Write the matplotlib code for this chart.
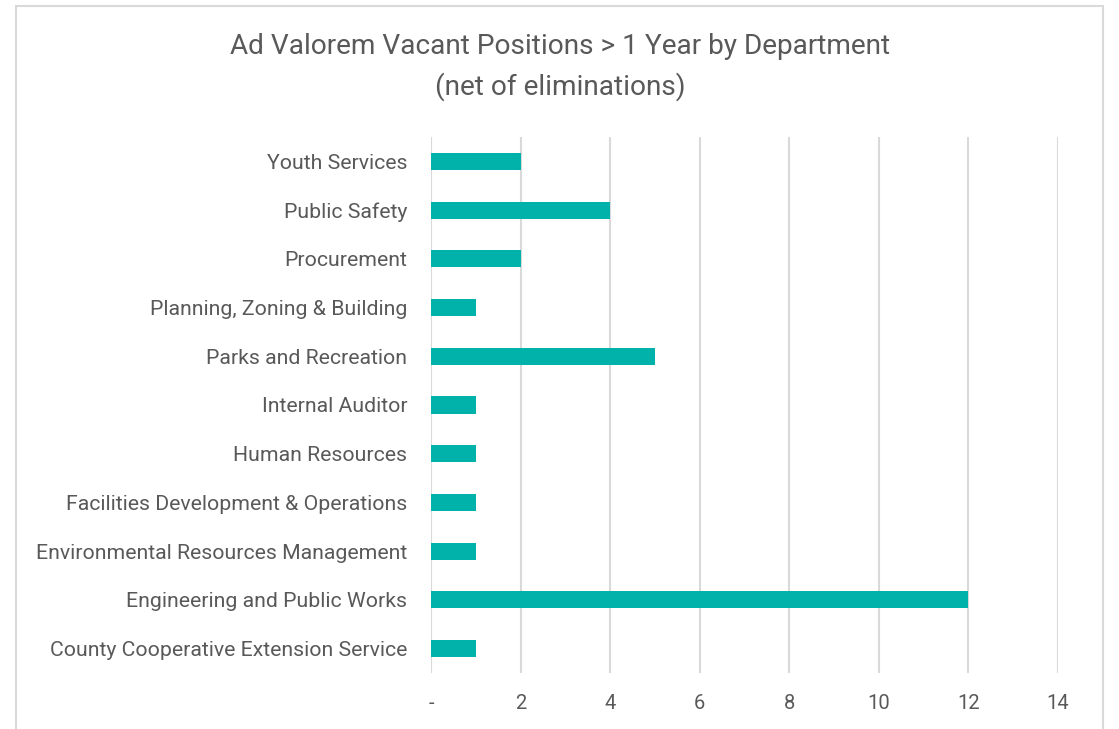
import matplotlib
matplotlib.use("Agg")
import matplotlib.pyplot as plt
from matplotlib.patches import Rectangle

categories = ["County Cooperative Extension Service", "Engineering and Public Works",
              "Environmental Resources Management", "Facilities Development & Operations",
              "Human Resources", "Internal Auditor", "Parks and Recreation",
              "Planning, Zoning & Building", "Procurement", "Public Safety", "Youth Services"]
values = [1, 12, 1, 1, 1, 1, 5, 1, 2, 4, 2]
xticks = [0, 2, 4, 6, 8, 10, 12, 14]
xtick_labels = ["-", "2", "4", "6", "8", "10", "12", "14"]

plt.rcParams['font.family'] = ['Roboto', 'DejaVu Sans']
text_color = "#595959"

fig = plt.figure(figsize=(11.19, 7.29), dpi=100)
fig.patches.append(Rectangle((16/1119, -0.1), (1103-16)/1119, 1.1 - 6/729,
                             transform=fig.transFigure, fill=False,
                             edgecolor="#D9D9D9", linewidth=1.5))
ax = fig.add_axes([431/1119, 1-673/729, (1058-431)/1119, (673-137)/729])
ax.barh(range(len(categories)), values, height=0.35, color="#00B2A9", zorder=3)
ax.set_ylim(-0.5, len(categories)-0.5)
ax.set_xlim(0, 14)
ax.set_yticks(range(len(categories)))
ax.set_yticklabels(categories, fontsize=15.3, color=text_color)
ax.set_xticks(xticks)
ax.set_xticklabels(xtick_labels, fontsize=14.5, color=text_color)
ax.tick_params(length=0)
ax.tick_params(axis='y', pad=17)
ax.tick_params(axis='x', pad=15)
for s in ax.spines.values():
    s.set_visible(False)
ax.grid(axis='x', color="#D9D9D9", linewidth=1.5, zorder=0)
fig.text(560/1119, 1-67/729, "Ad Valorem Vacant Positions > 1 Year by Department\n(net of eliminations)",
         ha='center', va='center', fontsize=20.2, color=text_color, linespacing=1.55)
fig.savefig("out.png", dpi=100)
